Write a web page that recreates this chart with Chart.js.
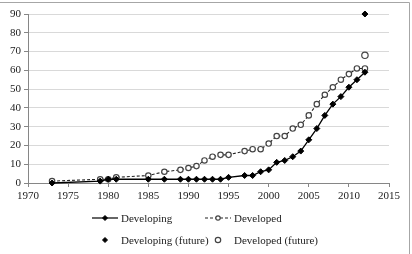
<!DOCTYPE html>
<html>
<head>
<meta charset="utf-8">
<style>
  html, body { margin: 0; padding: 0; background: #fff; }
  #wrap { width: 412px; height: 254px; position: relative; }
</style>
</head>
<body>
<div id="wrap"><canvas id="chart" width="412" height="254"></canvas></div>

<script src="https://cdn.jsdelivr.net/npm/chart.js"></script>
<script>
    // data
    const years = [1973, 1979, 1980, 1981, 1985, 1987, 1989, 1990, 1991, 1992, 1993, 1994, 1995,
                   1997, 1998, 1999, 2000, 2001, 2002, 2003, 2004, 2005, 2006, 2007, 2008, 2009, 2010, 2011, 2012];
    const developing = [0, 1, 2, 2, 2, 2, 2, 2, 2, 2, 2, 2, 3,
                        4, 4, 6, 7, 11, 12, 14, 17, 23, 29, 36, 42, 46, 51, 55, 59];
    const developed = [1, 2, 2, 3, 4, 6, 7, 8, 9, 12, 14, 15, 15,
                       17, 18, 18, 21, 25, 25, 29, 31, 36, 42, 47, 51, 55, 58, 61, 61];
    const futureYear = [2012];
    const developingFuture = [90];
    const developedFuture = [68];
    const xTicks = [1970, 1975, 1980, 1985, 1990, 1995, 2000, 2005, 2010, 2015];

    const seriesNames = ['Developing', 'Developed', 'Developing (future)', 'Developed (future)'];
    const FONT = '"Liberation Serif", "DejaVu Serif", serif';

    const pts = (xs, ys) => xs.map((x, i) => ({ x: x, y: ys[i] }));

    function drawMarker(c, style, r, x, y) {
        if (style === 'rectRot') {
            c.moveTo(x, y - r); c.lineTo(x + r, y); c.lineTo(x, y + r); c.lineTo(x - r, y); c.closePath();
        } else {
            c.arc(x, y, r, 0, Math.PI * 2);
        }
    }

    // Excel-like legend plus the outer frame
    const legendAndFrame = {
        id: 'legendAndFrame',
        afterDraw(chart) {
            const c = chart.ctx;
            c.save();
            c.strokeStyle = '#a6a6a6';
            c.lineWidth = 1;
            c.beginPath();
            c.moveTo(0, 2.5); c.lineTo(409.5, 2.5); c.lineTo(409.5, 254);
            c.stroke();

            const items = [
                { ds: 0, x: 92, y: 218, line: true },
                { ds: 1, x: 205, y: 218, line: true },
                { ds: 2, x: 92, y: 240, line: false },
                { ds: 3, x: 205, y: 240, line: false }
            ];
            items.forEach(it => {
                const d = chart.data.datasets[it.ds];
                if (it.line) {
                    c.beginPath();
                    c.setLineDash(d.borderDash || []);
                    c.strokeStyle = d.borderColor;
                    c.lineWidth = 1.2;
                    c.moveTo(it.x, it.y); c.lineTo(it.x + 26, it.y);
                    c.stroke();
                    c.setLineDash([]);
                }
                c.fillStyle = d.pointBackgroundColor;
                c.strokeStyle = d.pointBorderColor;
                c.lineWidth = d.pointBorderWidth;
                c.beginPath();
                drawMarker(c, d.pointStyle, d.pointRadius - 0.5, it.x + 13, it.y);
                c.fill(); c.stroke();
                c.fillStyle = '#222';
                c.font = '11px ' + FONT;
                c.textBaseline = 'middle';
                c.fillText(seriesNames[it.ds], it.x + 29, it.y + 1);
            });
            c.restore();
        }
    };

    new Chart(document.getElementById('chart'), {
        type: 'scatter',
        data: {
            datasets: [
                {
                    label: seriesNames[0], data: pts(years, developing), showLine: true,
                    borderColor: '#000', borderWidth: 1.3,
                    pointStyle: 'rectRot', pointRadius: 3, pointBackgroundColor: '#000', pointBorderColor: '#000',
                    pointBorderWidth: 1, order: 1, clip: false
                },
                {
                    label: seriesNames[1], data: pts(years, developed), showLine: true,
                    borderColor: '#222', borderWidth: 1.1, borderDash: [3, 2],
                    pointStyle: 'circle', pointRadius: 2.7, pointBackgroundColor: '#fff', pointBorderColor: '#444',
                    pointBorderWidth: 1.2, order: 2, clip: false
                },
                {
                    label: seriesNames[2], data: pts(futureYear, developingFuture), showLine: false,
                    pointStyle: 'rectRot', pointRadius: 3, pointBackgroundColor: '#000', pointBorderColor: '#000',
                    pointBorderWidth: 1, clip: false
                },
                {
                    label: seriesNames[3], data: pts(futureYear, developedFuture), showLine: false,
                    pointStyle: 'circle', pointRadius: 3.2, pointBackgroundColor: '#fff', pointBorderColor: '#444',
                    pointBorderWidth: 1.2, clip: false
                }
            ]
        },
        options: {
            responsive: false,
            animation: false,
            layout: { padding: { top: 14, right: 23, left: 0, bottom: 0 } },
            plugins: { legend: { display: false }, tooltip: { enabled: false } },
            scales: {
                x: {
                    type: 'linear', min: 1970, max: 2015,
                    afterBuildTicks: s => { s.ticks = xTicks.map(v => ({ value: v })); },
                    afterFit: s => { s.height = 71; },
                    grid: { drawOnChartArea: false, drawTicks: true, tickLength: 4, color: '#868686' },
                    border: { color: '#868686', width: 1 },
                    ticks: { padding: 3, color: '#222', font: { family: FONT, size: 11 }, maxRotation: 0,
                             callback: v => String(v) }
                },
                y: {
                    min: 0, max: 90,
                    ticks: { stepSize: 10, padding: 3, color: '#222', font: { family: FONT, size: 11 } },
                    afterFit: s => { s.width = 28; },
                    grid: { color: '#d9d9d9', tickColor: '#868686', tickLength: 4 },
                    border: { color: '#868686', width: 1 }
                }
            }
        },
        plugins: [legendAndFrame]
    });
</script>
</body>
</html>
